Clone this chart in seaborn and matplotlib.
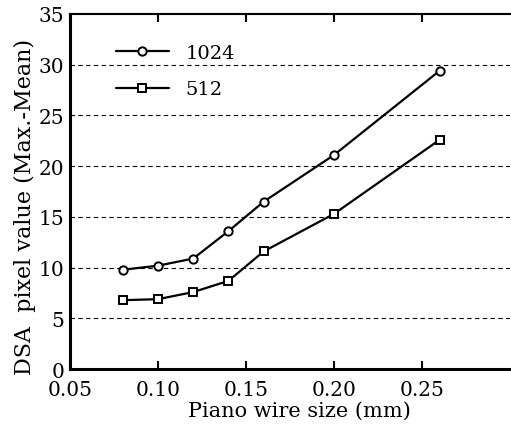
import matplotlib
matplotlib.use("Agg")
import matplotlib.pyplot as plt
import seaborn as sns
import pandas as pd

wire_size = [0.08, 0.10, 0.12, 0.14, 0.16, 0.20, 0.26]
dsa_1024 = [9.8, 10.2, 10.9, 13.6, 16.5, 21.1, 29.4]
dsa_512 = [6.8, 6.9, 7.6, 8.7, 11.6, 15.3, 22.6]
series_names = ["1024", "512"]
x_ticks = [0.05, 0.10, 0.15, 0.20, 0.25]
x_tick_labels = ["0.05", "0.10", "0.15", "0.20", "0.25"]
y_ticks = [0, 5, 10, 15, 20, 25, 30, 35]

df = pd.DataFrame({
    "size": wire_size * 2,
    "value": dsa_1024 + dsa_512,
    "matrix": [series_names[0]] * len(wire_size) + [series_names[1]] * len(wire_size),
})

sns.set_theme(style="white")
plt.rcParams["font.family"] = ["DejaVu Serif"]
plt.rcParams["text.color"] = "black"
plt.rcParams["axes.labelcolor"] = "black"
plt.rcParams["xtick.color"] = "black"
plt.rcParams["ytick.color"] = "black"

fig = plt.figure(figsize=(5.11, 4.27), dpi=100)
ax = fig.add_axes([0.137, 0.133, 0.861, 0.832])

for y in y_ticks[1:-1]:
    ax.axhline(y, color="black", lw=0.8, ls=(0, (4, 3)), zorder=0)

sns.lineplot(data=df, x="size", y="value", style="matrix", markers={"1024": "o", "512": "s"},
             dashes=False, color="black", linewidth=1.6, markersize=6,
             markerfacecolor="white", markeredgecolor="black", markeredgewidth=1.4,
             ax=ax, legend=True)

ax.set_xlim(0.05, 0.30)
ax.set_ylim(0, 35)
ax.set_xticks(x_ticks)
ax.set_xticklabels(x_tick_labels)
ax.set_yticks(y_ticks)
ax.tick_params(axis="x", direction="in", length=6, width=1.5, top=True, bottom=True,
               labelsize=14.5, pad=8, colors="black")
ax.tick_params(axis="y", length=0, labelsize=14.5, pad=4, colors="black")

for side in ["left", "bottom", "top"]:
    ax.spines[side].set_visible(True)
    ax.spines[side].set_color("black")
ax.spines["left"].set_linewidth(2.2)
ax.spines["bottom"].set_linewidth(2.2)
ax.spines["top"].set_linewidth(1.5)
ax.spines["right"].set_visible(False)

ax.set_xlabel("Piano wire size (mm)", fontsize=15, color="black")
ax.set_ylabel("DSA  pixel value (Max.-Mean)", fontsize=16, color="black")
ax.xaxis.set_label_coords(0.521, -0.09)
ax.yaxis.set_label_coords(-0.078, 0.46)

leg = ax.legend(loc="upper left", bbox_to_anchor=(0.065, 0.965), frameon=False, fontsize=14,
                handlelength=2.7, handletextpad=0.85, labelspacing=0.95)
for t in leg.get_texts():
    t.set_color("black")

fig.savefig("out.png", dpi=100)
